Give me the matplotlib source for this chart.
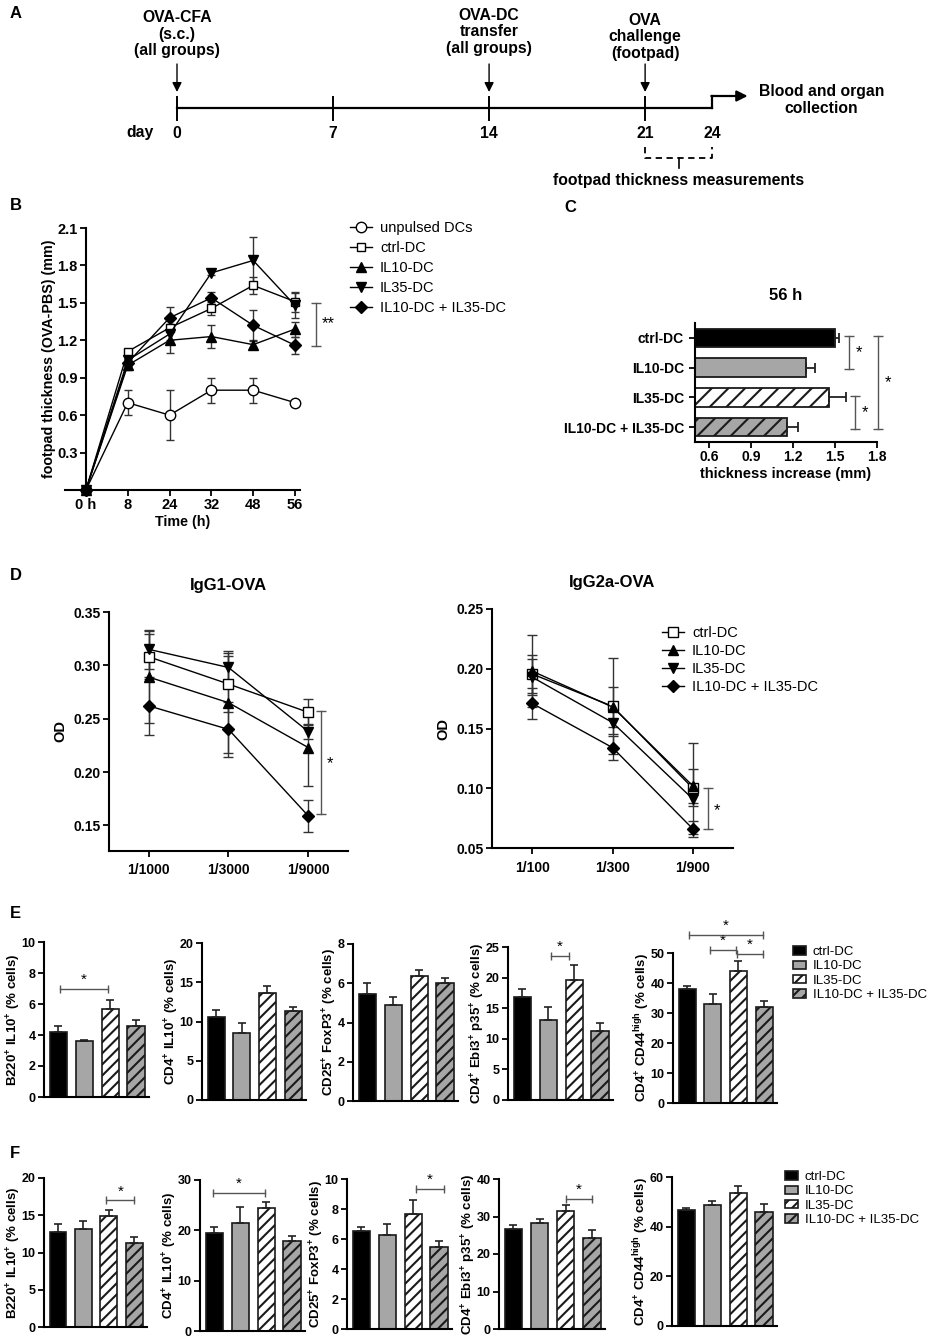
import numpy as np
import matplotlib
matplotlib.use("Agg")
import matplotlib.pyplot as plt
from matplotlib.lines import Line2D
from matplotlib.patches import Patch

# ================= DATA =================
# Panel A: protocol timeline (days)
timeline_days = [0, 7, 14, 21, 24]
event_days = [0, 14, 21]
event_labels = ["OVA-CFA\n(s.c.)\n(all groups)",
                "OVA-DC\ntransfer\n(all groups)",
                "OVA\nchallenge\n(footpad)"]
measure_days = [21, 24]
measure_label = "footpad thickness measurements"
end_label = "Blood and organ\ncollection"

# Panel B: footpad thickness over time
b_time_labels = ["0 h", "8", "24", "32", "48", "56"]
b_names = ["unpulsed DCs", "ctrl-DC", "IL10-DC", "IL35-DC", "IL10-DC + IL35-DC"]
b_unpulsed = [0, 0.70, 0.60, 0.80, 0.80, 0.70]
b_unpulsed_err = [0, 0.10, 0.20, 0.10, 0.10, 0.0]
b_ctrl = [0, 1.11, 1.30, 1.455, 1.64, 1.51]
b_ctrl_err = [0, 0.02, 0.03, 0.05, 0.07, 0.08]
b_il10 = [0, 1.00, 1.20, 1.23, 1.165, 1.29]
b_il10_err = [0, 0.04, 0.10, 0.09, 0.03, 0.06]
b_il35 = [0, 1.04, 1.25, 1.74, 1.84, 1.48]
b_il35_err = [0, 0.03, 0.05, 0.02, 0.19, 0.10]
b_combo = [0, 1.02, 1.38, 1.54, 1.32, 1.16]
b_combo_err = [0, 0.03, 0.09, 0.05, 0.12, 0.07]
b_yticks = [0.3, 0.6, 0.9, 1.2, 1.5, 1.8, 2.1]

# Panel C: thickness increase at 56 h
groups = ["ctrl-DC", "IL10-DC", "IL35-DC", "IL10-DC + IL35-DC"]
c_values = [1.50, 1.295, 1.46, 1.155]
c_err = [0.03, 0.06, 0.12, 0.08]
c_xticks = [0.6, 0.9, 1.2, 1.5, 1.8]

# Panel D: antibody OD
d1_dilutions = ["1/1000", "1/3000", "1/9000"]
d1_ctrl = [0.308, 0.2825, 0.256]
d1_ctrl_err = [0.021, 0.026, 0.012]
d1_il10 = [0.289, 0.265, 0.223]
d1_il10_err = [0.043, 0.047, 0.036]
d1_il35 = [0.315, 0.298, 0.238]
d1_il35_err = [0.018, 0.015, 0.007]
d1_combo = [0.262, 0.240, 0.159]
d1_combo_err = [0.027, 0.026, 0.015]
d1_yticks = [0.15, 0.20, 0.25, 0.30, 0.35]

d2_dilutions = ["1/100", "1/300", "1/900"]
d2_ctrl = [0.1956, 0.1686, 0.100]
d2_ctrl_err = [0.016, 0.040, 0.038]
d2_il10 = [0.198, 0.168, 0.102]
d2_il10_err = [0.030, 0.017, 0.014]
d2_il35 = [0.193, 0.155, 0.091]
d2_il35_err = [0.015, 0.010, 0.006]
d2_combo = [0.171, 0.134, 0.066]
d2_combo_err = [0.013, 0.010, 0.007]
d2_yticks = [0.05, 0.10, 0.15, 0.20, 0.25]

# Panel E / F: cell percentages
ylabels = [r"B220$^{+}$ IL10$^{+}$ (% cells)",
           r"CD4$^{+}$ IL10$^{+}$ (% cells)",
           r"CD25$^{+}$ FoxP3$^{+}$ (% cells)",
           r"CD4$^{+}$ Ebi3$^{+}$ p35$^{+}$ (% cells)",
           r"CD4$^{+}$ CD44$^{high}$ (% cells)"]

e_b220_il10 = [4.2, 3.63, 5.67, 4.59]
e_b220_il10_err = [0.37, 0.07, 0.57, 0.41]
e_cd4_il10 = [10.6, 8.57, 13.6, 11.34]
e_cd4_il10_err = [0.9, 1.2, 0.95, 0.45]
e_cd25_foxp3 = [5.43, 4.89, 6.37, 6.03]
e_cd25_foxp3_err = [0.6, 0.42, 0.33, 0.25]
e_ebi3_p35 = [16.9, 13.1, 19.6, 11.27]
e_ebi3_p35_err = [1.2, 2.15, 2.4, 1.35]
e_cd44 = [38.0, 32.9, 43.9, 32.1]
e_cd44_err = [1.0, 3.5, 3.5, 2.0]
e_ymax = [10, 20, 8, 25, 50]
e_ystep = [2, 5, 2, 5, 10]

f_b220_il10 = [12.78, 13.2, 14.87, 11.3]
f_b220_il10_err = [1.0, 1.0, 0.8, 0.8]
f_cd4_il10 = [19.5, 21.4, 24.35, 17.85]
f_cd4_il10_err = [1.1, 3.15, 1.3, 1.05]
f_cd25_foxp3 = [6.51, 6.29, 7.69, 5.47]
f_cd25_foxp3_err = [0.29, 0.73, 0.93, 0.37]
f_ebi3_p35 = [26.7, 28.3, 31.6, 24.4]
f_ebi3_p35_err = [1.0, 1.1, 1.6, 2.0]
f_cd44 = [46.6, 48.6, 53.5, 45.9]
f_cd44_err = [0.9, 1.7, 2.7, 3.1]
f_ymax = [20, 30, 10, 40, 60]
f_ystep = [5, 10, 2, 10, 20]

# ================= STYLE =================
plt.rcParams['font.family'] = ['Liberation Sans', 'DejaVu Sans']
plt.rcParams['mathtext.fontset'] = 'custom'
plt.rcParams['mathtext.bf'] = 'Liberation Sans:bold'
plt.rcParams['mathtext.rm'] = 'Liberation Sans'
plt.rcParams['mathtext.it'] = 'Liberation Sans:bold'
plt.rcParams['mathtext.default'] = 'bf'
plt.rcParams['hatch.linewidth'] = 1.5

W, H = 927, 1339
fig = plt.figure(figsize=(W / 100, H / 100), dpi=100)
SIG = '#555555'
GRAY = '#a6a6a6'
EDGE = '#1a1a1a'

def px_axes(l, t, r, b):
    return fig.add_axes([l / W, 1 - b / H, (r - l) / W, (b - t) / H])

def style(ax, fs=9.5):
    for s in ['top', 'right']:
        ax.spines[s].set_visible(False)
    for s in ['left', 'bottom']:
        ax.spines[s].set_linewidth(1.5)
    ax.tick_params(direction='out', length=4, width=1.3, labelsize=fs, pad=2)
    for lab in ax.get_xticklabels() + ax.get_yticklabels():
        lab.set_fontweight('bold')

def panel_letter(x, y, s):
    fig.text(x / W, 1 - y / H, s, fontsize=12, fontweight='bold', va='center', ha='left')

# ================= PANEL A =================
panel_letter(10, 14, 'A')
ax_a = px_axes(177, 0, 712, 195)
ax_a.set_xlim(timeline_days[0], timeline_days[-1])
ax_a.set_ylim(195, 0)
ax_a.axis('off')
tfs = 11.3
ax_a.plot([timeline_days[0], timeline_days[-1]], [108, 108], color='k', lw=1.6, clip_on=False)
for d in timeline_days[:-1]:
    ax_a.plot([d, d], [97, 120], color='k', lw=1.4, clip_on=False)
for d in timeline_days:
    ax_a.text(d, 133, str(d), ha='center', va='center', fontsize=tfs, fontweight='bold')
ax_a.text(-1.65, 133, 'day', ha='center', va='center', fontsize=tfs, fontweight='bold')
# bent arrow at the end
ax_a.plot([timeline_days[-1], timeline_days[-1]], [108, 96], color='k', lw=1.6, clip_on=False)
ax_a.annotate('', xy=(timeline_days[-1] + 1.6, 96), xytext=(timeline_days[-1] - 0.03, 96),
              annotation_clip=False,
              arrowprops=dict(arrowstyle='-|>', lw=1.6, color='k', mutation_scale=16,
                              shrinkA=0, shrinkB=0))
ax_a.text(timeline_days[-1] + 4.9, 100, end_label, ha='center', va='center',
          fontsize=tfs, fontweight='bold', linespacing=1.15)
text_y = [34, 32, 37]
for d, lab, ty in zip(event_days, event_labels, text_y):
    ax_a.annotate('', xy=(d, 92), xytext=(d, 64), annotation_clip=False,
                  arrowprops=dict(arrowstyle='-|>', lw=1.0, color='k', mutation_scale=14,
                                  shrinkA=0, shrinkB=0))
    ax_a.text(d, ty, lab, ha='center', va='center', fontsize=tfs, fontweight='bold',
              linespacing=1.15)
m0, m1 = measure_days
ax_a.plot([m0, m0, m1, m1], [147, 158, 158, 147], color='k', lw=1.3, ls=(0, (3.5, 2.5)),
          clip_on=False)
ax_a.plot([(m0 + m1) / 2] * 2, [158, 168], color='k', lw=1.2, clip_on=False)
ax_a.text((m0 + m1) / 2, 180, measure_label, ha='center', va='center', fontsize=tfs,
          fontweight='bold')

# ================= PANEL B =================
panel_letter(10, 206, 'B')
ax_b = px_axes(65, 228, 300, 490)
xb = np.arange(len(b_time_labels))
series_b = [(b_unpulsed, b_unpulsed_err, 'o', 'white', 7.5),
            (b_ctrl, b_ctrl_err, 's', 'white', 6),
            (b_il10, b_il10_err, '^', 'black', 6.5),
            (b_il35, b_il35_err, 'v', 'black', 6.5),
            (b_combo, b_combo_err, 'D', 'black', 6.5)]
handles_b = []
for vals, errs, mk, fc, ms in series_b:
    vals = np.array(vals); errs = np.array(errs)
    m = errs > 0
    ax_b.errorbar(xb[m], vals[m], yerr=errs[m], fmt='none', ecolor='#333333',
                  elinewidth=1, capsize=3, capthick=1, clip_on=False, zorder=2)
    ax_b.plot(xb, vals, color='k', lw=1, marker=mk, mfc=fc, mec='k', mew=1, ms=ms,
              clip_on=False, zorder=3)
    handles_b.append(Line2D([0], [0], color='k', lw=1, marker=mk, mfc=fc, mec='k',
                            mew=1, ms=ms))
ax_b.set_xlim(-0.5, 5.12)
ax_b.set_ylim(0, 2.1)
ax_b.spines['left'].set_position(('data', 0))
ax_b.set_xticks(xb)
ax_b.set_xticklabels(b_time_labels)
ax_b.set_yticks(b_yticks)
ax_b.set_yticklabels([f"{v:.1f}" for v in b_yticks])
style(ax_b, 10.5)
ax_b.set_xlabel('Time (h)', fontsize=10.3, fontweight='bold', labelpad=2)
ax_b.set_ylabel('footpad thickness (OVA-PBS) (mm)', fontsize=10.3, fontweight='bold',
                labelpad=1)
ax_b.plot([5.5, 5.5], [b_combo[-1] - 0.005, b_ctrl[-1] - 0.01], color=SIG, lw=1,
          marker='_', ms=7, mew=1, clip_on=False)
ax_b.text(5.8, (b_combo[-1] + b_ctrl[-1]) / 2, '**', ha='center', va='center',
          fontsize=12, clip_on=False)
ax_b.legend(handles_b, b_names, loc='upper left', bbox_to_anchor=(350 / W, 1 - 221 / H),
            bbox_transform=fig.transFigure, frameon=False, fontsize=10.5, handlelength=1.5,
            handletextpad=0.55, labelspacing=0.42, borderaxespad=0, borderpad=0)

# ================= PANEL C =================
panel_letter(564, 208, 'C')
ax_c = px_axes(695, 323, 877, 442)
yc = np.arange(len(groups))
faces = ['black', GRAY, 'white', GRAY]
hatches = [None, None, '//', '//']
bars = ax_c.barh(yc, c_values, height=0.62, color=faces, edgecolor=EDGE, linewidth=1.3,
                 zorder=2)
for b_, h_ in zip(bars, hatches):
    if h_:
        b_.set_hatch(h_)
ax_c.errorbar(c_values, yc, xerr=[np.zeros(len(c_err)), c_err], fmt='none',
              ecolor='#222222', elinewidth=1.3, capsize=3.5, capthick=1.3, zorder=3)
ax_c.set_xlim(0.5, 1.8)
ax_c.set_ylim(3.5, -0.5)
ax_c.set_xticks(c_xticks)
ax_c.set_xticklabels([f"{v:.1f}" for v in c_xticks])
ax_c.set_yticks(yc)
ax_c.set_yticklabels(groups)
style(ax_c, 10)
ax_c.tick_params(axis='y', pad=4)
ax_c.set_xlabel('thickness increase (mm)', fontsize=10.5, fontweight='bold', labelpad=2)
ax_c.text(0.5, 1.235, '56 h', transform=ax_c.transAxes, ha='center', va='center',
          fontsize=12, fontweight='bold')
for (i, j), xs, xt in [((0, 1), 1.60, 1.67), ((2, 3), 1.643, 1.714), ((0, 3), 1.81, 1.88)]:
    ax_c.plot([xs, xs], [yc[i] - 0.05, yc[j] + 0.05], color=SIG, lw=1, marker='_', ms=7,
              mew=1, clip_on=False)
    ax_c.text(xt, (yc[i] + yc[j]) / 2, '*', ha='center', va='center', fontsize=12,
              clip_on=False)

# ================= PANEL D =================
panel_letter(10, 576, 'D')
d_markers = [('s', 'white', 6.5), ('^', 'black', 6.5), ('v', 'black', 6.5), ('D', 'black', 6.5)]

def od_panel(ax, labels, series, yticks, ylim, title):
    xd = np.arange(len(labels))
    hs = []
    for (vals, errs), (mk, fc, ms) in zip(series, d_markers):
        ax.errorbar(xd, vals, yerr=errs, fmt='none', ecolor='#333333', elinewidth=1,
                    capsize=3.5, capthick=1, zorder=2)
        ax.plot(xd, vals, color='k', lw=1, marker=mk, mfc=fc, mec='k', mew=1, ms=ms,
                zorder=3)
        hs.append(Line2D([0], [0], color='k', lw=1, marker=mk, mfc=fc, mec='k', mew=1, ms=ms))
    ax.set_xlim(-0.5, 2.5)
    ax.set_ylim(*ylim)
    ax.set_xticks(xd)
    ax.set_xticklabels(labels)
    ax.set_yticks(yticks)
    ax.set_yticklabels([f"{v:.2f}" for v in yticks])
    style(ax, 10)
    ax.tick_params(axis='x', pad=5)
    ax.set_ylabel('OD', fontsize=10.5, fontweight='bold', labelpad=4)
    ax.text(0.5, 1.112, title, transform=ax.transAxes, ha='center', va='center',
            fontsize=12, fontweight='bold')
    return hs

ax_d1 = px_axes(109, 612, 348, 851)
od_panel(ax_d1, d1_dilutions,
         [(d1_ctrl, d1_ctrl_err), (d1_il10, d1_il10_err), (d1_il35, d1_il35_err),
          (d1_combo, d1_combo_err)], d1_yticks, (0.126, 0.35), 'IgG1-OVA')
ax_d1.plot([2.16, 2.16], [d1_combo[-1] + 0.002, d1_ctrl[-1] + 0.001], color=SIG, lw=1,
           marker='_', ms=7, mew=1, clip_on=False)
ax_d1.text(2.28, (d1_combo[-1] + d1_ctrl[-1]) / 2, '*', ha='center', va='center', fontsize=12)

ax_d2 = px_axes(492, 609, 733, 848)
hd = od_panel(ax_d2, d2_dilutions,
              [(d2_ctrl, d2_ctrl_err), (d2_il10, d2_il10_err), (d2_il35, d2_il35_err),
               (d2_combo, d2_combo_err)], d2_yticks, (0.05, 0.25), 'IgG2a-OVA')
ax_d2.plot([2.19, 2.19], [d2_combo[-1], d2_ctrl[-1]], color=SIG, lw=1,
           marker='_', ms=7, mew=1, clip_on=False)
ax_d2.text(2.3, (d2_combo[-1] + d2_ctrl[-1]) / 2 - 0.002, '*', ha='center', va='center',
           fontsize=12)
ax_d2.legend(hd, groups, loc='upper left', bbox_to_anchor=(662 / W, 1 - 626 / H),
             bbox_transform=fig.transFigure, frameon=False, fontsize=10.5, handlelength=1.5,
             handletextpad=0.55, labelspacing=0.28, borderaxespad=0, borderpad=0)

# ================= PANEL E / F =================
bar_faces = ['black', GRAY, 'white', GRAY]
bar_hatch = [None, None, '///', '///']

def bar_panel(ax, vals, errs, ymax, ystep, ylabel, sigs):
    xs = np.arange(len(vals))
    bs = ax.bar(xs, vals, width=0.66, color=bar_faces, edgecolor=EDGE, linewidth=1.2,
                zorder=2)
    for b_, h_ in zip(bs, bar_hatch):
        if h_:
            b_.set_hatch(h_)
    ax.errorbar(xs, vals, yerr=[np.zeros(len(errs)), errs], fmt='none', ecolor='#222222',
                elinewidth=1.2, capsize=3.2, capthick=1.2, zorder=3)
    ax.set_xlim(-0.55, 3.5)
    ax.set_ylim(0, ymax)
    ticks = np.arange(0, ymax + 0.001, ystep)
    ax.set_yticks(ticks)
    ax.set_yticklabels([f"{t:g}" for t in ticks])
    ax.set_xticks([])
    style(ax, 9)
    ax.set_ylabel(ylabel, fontsize=9.5, fontweight='bold', labelpad=-1)
    for x1, x2, yl, ys in sigs:
        ax.plot([x1, x2], [yl, yl], color=SIG, lw=1, marker='|', ms=6, mew=1, clip_on=False)
        ax.text((x1 + x2) / 2, ys, '*', ha='center', va='center', fontsize=11, clip_on=False)

panel_letter(10, 913, 'E')
e_pos = [(44, 942, 149, 1097), (202, 943, 306, 1100), (353, 944, 458, 1101),
         (508, 947, 613, 1100), (673, 953, 777, 1103)]
e_data = [(e_b220_il10, e_b220_il10_err), (e_cd4_il10, e_cd4_il10_err),
          (e_cd25_foxp3, e_cd25_foxp3_err), (e_ebi3_p35, e_ebi3_p35_err),
          (e_cd44, e_cd44_err)]
e_sigs = [[(0.08, 1.9, 6.95, 7.55)], [], [],
          [(1.1, 1.8, 23.5, 25.1)],
          [(0.08, 2.96, 56.1, 59.2), (0.9, 1.9, 51.1, 54.2), (1.94, 2.96, 49.8, 52.9)]]
for pos, (v, e), ym, st, yl, sg in zip(e_pos, e_data, e_ymax, e_ystep, ylabels, e_sigs):
    bar_panel(px_axes(*pos), v, e, ym, st, yl, sg)

panel_letter(10, 1153, 'F')
f_pos = [(44, 1178, 147, 1327), (200, 1180, 305, 1331), (347, 1179, 452, 1329),
         (499, 1179, 605, 1329), (672, 1177, 777, 1326)]
f_data = [(f_b220_il10, f_b220_il10_err), (f_cd4_il10, f_cd4_il10_err),
          (f_cd25_foxp3, f_cd25_foxp3_err), (f_ebi3_p35, f_ebi3_p35_err),
          (f_cd44, f_cd44_err)]
f_sigs = [[(1.9, 3.0, 17.0, 18.2)], [(-0.05, 1.95, 27.5, 29.2)], [(2.1, 3.2, 9.33, 9.95)],
          [(2.0, 3.0, 34.7, 37.0)], []]
for pos, (v, e), ym, st, yl, sg in zip(f_pos, f_data, f_ymax, f_ystep, ylabels, f_sigs):
    bar_panel(px_axes(*pos), v, e, ym, st, yl, sg)

leg_handles = [Patch(facecolor=fc, edgecolor=EDGE, hatch=h, linewidth=1.2)
               for fc, h in zip(bar_faces, bar_hatch)]
for lx, ly in [(793, 946), (785, 1171)]:
    fig.legend(leg_handles, groups, loc='upper left', bbox_to_anchor=(lx / W, 1 - ly / H),
               bbox_transform=fig.transFigure, frameon=False, fontsize=9.5,
               handlelength=1.0, handleheight=0.6, handletextpad=0.5, labelspacing=0.18,
               borderaxespad=0, borderpad=0)

fig.savefig('out.png', dpi=100)
